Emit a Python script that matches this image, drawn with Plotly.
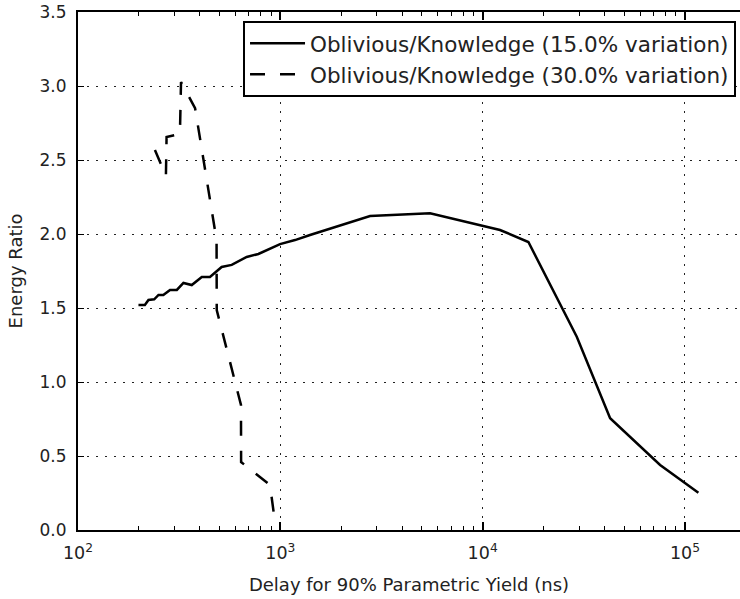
import plotly.graph_objects as go

# Oblivious/Knowledge energy ratio vs. delay for 90% parametric yield
delay_15 = [199, 214, 223, 238, 250, 264, 285, 308, 332, 365, 409, 449, 513, 575,
            682, 779, 997, 1182, 1402, 2776, 5495, 12190, 16830, 29190, 42670,
            75360, 116500]
ratio_15 = [1.52, 1.52, 1.554, 1.559, 1.588, 1.588, 1.622, 1.622, 1.669, 1.655,
            1.709, 1.709, 1.777, 1.791, 1.845, 1.865, 1.932, 1.959, 1.993, 2.122,
            2.140, 2.027, 1.946, 1.306, 0.755, 0.439, 0.252]

delay_30 = [240, 272, 274, 319, 323, 379, 484, 485, 639, 640, 889, 941]
ratio_30 = [2.568, 2.392, 2.655, 2.676, 3.027, 2.851, 1.959, 1.486, 0.845, 0.459,
            0.304, 0.054]

label_15 = "Oblivious/Knowledge (15.0% variation)"
label_30 = "Oblivious/Knowledge (30.0% variation)"

# major decade ticks and their labels
x_tick_vals = [100, 1000, 10000, 100000]
x_tick_text = ["10<sup>2</sup>", "10<sup>3</sup>", "10<sup>4</sup>", "10<sup>5</sup>"]
# minor log ticks at 2..9 times each decade
minor_mult = [2, 3, 4, 5, 6, 7, 8, 9]
minor_vals = [d * m for d in x_tick_vals for m in minor_mult]

font_family = "DejaVu Sans, Liberation Sans, sans-serif"
text_color = "#222222"

fig = go.Figure()
fig.add_trace(go.Scatter(
    x=delay_15, y=ratio_15, mode="lines", name=label_15,
    line=dict(color="black", width=2.5), legendgroup="a",
))
fig.add_trace(go.Scatter(
    x=delay_30, y=ratio_30, mode="lines", name=label_30,
    line=dict(color="black", width=2.5, dash="15px,15px"), legendgroup="b",
))

grid = dict(showgrid=True, gridcolor="#222222", gridwidth=1.3, griddash="2px,7px")

fig.update_layout(
    width=740, height=599,
    margin=dict(l=78, r=0, t=12, b=69),
    paper_bgcolor="white", plot_bgcolor="white",
    font=dict(family=font_family, color=text_color, size=18),
    showlegend=True,
    legend=dict(
        x=0.994, xanchor="right", y=0.983, yanchor="top",
        bgcolor="white", bordercolor="black", borderwidth=2,
        font=dict(size=21.5, family=font_family, color=text_color),
        tracegroupgap=0, itemwidth=55,
    ),
    xaxis=dict(
        type="log", range=[2, 5.272],
        tickmode="array", tickvals=x_tick_vals, ticktext=x_tick_text,
        showline=True, linecolor="black", linewidth=2, mirror="allticks",
        ticks="inside", ticklen=8, tickwidth=1.5, tickcolor="black",
        minor=dict(tickmode="array", tickvals=minor_vals, ticks="inside",
                   ticklen=4, tickwidth=1, tickcolor="black", showgrid=False),
        tickfont=dict(size=17.5, family=font_family, color=text_color),
        ticklabelstandoff=6,
        title=dict(text="Delay for 90% Parametric Yield (ns)",
                   font=dict(size=18, family=font_family, color=text_color),
                   standoff=16),
        zeroline=False,
        **grid,
    ),
    yaxis=dict(
        range=[0, 3.5], dtick=0.5, tickformat=".1f",
        showline=True, linecolor="black", linewidth=2, mirror=False,
        ticks="inside", ticklen=6, tickwidth=1, tickcolor="black",
        tickfont=dict(size=17, family=font_family, color=text_color),
        ticklabelstandoff=6,
        title=dict(text="Energy Ratio",
                   font=dict(size=18, family=font_family, color=text_color),
                   standoff=12),
        zeroline=False,
        **grid,
    ),
)

fig.write_html("out.html")
